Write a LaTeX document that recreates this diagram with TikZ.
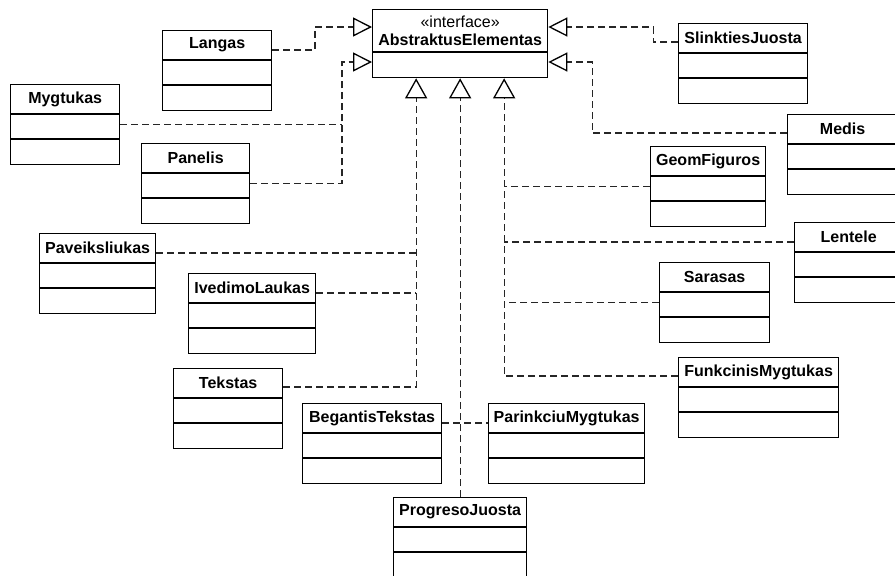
\documentclass[tikz,border=0pt]{standalone}
\usepackage{fontspec}
\setmainfont{Liberation Sans}
\usetikzlibrary{arrows.meta}

\tikzset{
  classbox/.style={draw, line width=1.3pt, rectangle, inner sep=0pt, anchor=north west, minimum height=80pt},
  divider/.style={line width=1.3pt},
  classtitle/.style={font=\bfseries\fontsize{16}{18}\selectfont, inner sep=0pt},
  dep/.style={dashed, dash pattern=on 7pt off 4pt, line width=1.2pt, black!85},
  realizes/.style={dep, -{Triangle[open, length=19pt, width=19pt, line width=1.3pt, black]}},
  realizesup/.style={dep, -{Triangle[open, length=20pt, width=22pt, line width=1.3pt, black]}},
}

% a UML class: name, left, top, right, title
\newcommand\umlclass[5]{%
  \node[classbox, minimum width={#4-#2}] (#1) at (#2,#3) {};
  \draw[divider] ([yshift=-30pt]#1.north west) -- ([yshift=-30pt]#1.north east);
  \draw[divider] ([yshift=-55pt]#1.north west) -- ([yshift=-55pt]#1.north east);
  \node[classtitle] (#1-title) at ([yshift=-15pt]#1.north) {#5};
}

\begin{document}
\begin{tikzpicture}[x=1pt, y=-1pt]
\useasboundingbox (0,0) rectangle (895,576);
\clip (0,0) rectangle (895,576);

% the interface
\node[draw, line width=1.3pt, rectangle, inner sep=0pt, anchor=north west,
      minimum width=175pt, minimum height=68pt] (abs) at (372,9) {};
\draw[divider] ([yshift=-43pt]abs.north west) -- ([yshift=-43pt]abs.north east);
\node[inner sep=0pt, font=\fontsize{16}{18}\selectfont] (abs-st) at ([yshift=-13pt]abs.north) {«interface»};
\node[classtitle] (abs-title) at ([yshift=-31pt]abs.north) {AbstraktusElementas};

% arrow targets on the interface
\coordinate (aL1) at ([yshift=-18pt]abs.north west);
\coordinate (aL2) at ([yshift=-53pt]abs.north west);
\coordinate (aR1) at ([yshift=-18pt]abs.north east);
\coordinate (aR2) at ([yshift=-53pt]abs.north east);
\coordinate (aB1) at ([xshift=-44pt]abs.south);
\coordinate (aB2) at (abs.south);
\coordinate (aB3) at ([xshift=44pt]abs.south);

% implementing classes
\umlclass{langas}{162}{30}{271}{Langas}
\umlclass{myg}{10}{84}{119}{Mygtukas}
\umlclass{pan}{141}{143}{249}{Panelis}
\umlclass{pav}{39}{233}{155}{Paveiksliukas}
\umlclass{ived}{188}{273}{315}{IvedimoLaukas}
\umlclass{tek}{173}{368}{282}{Tekstas}
\umlclass{beg}{302}{403}{441}{BegantisTekstas}
\umlclass{par}{488}{403}{644}{ParinkciuMygtukas}
\umlclass{prog}{393}{497}{526}{ProgresoJuosta}
\umlclass{sli}{678}{23}{807}{SlinktiesJuosta}
\umlclass{med}{787}{114}{897}{Medis}
\umlclass{geo}{650}{146}{765}{GeomFiguros}
\umlclass{len}{794}{222}{902}{Lentele}
\umlclass{sar}{659}{262}{769}{Sarasas}
\umlclass{fun}{678}{357}{838}{FunkcinisMygtukas}

% connector start points on the class boxes
\coordinate (sPav) at ([yshift=-20pt]pav.north east);
\coordinate (sIved) at ([yshift=-20pt]ived.north east);
\coordinate (sLen) at ([yshift=-20pt]len.north west);

% junctions where connectors merge into a shared vertical run
\coordinate (jMyg) at ([xshift=-30pt]aL2 |- myg.east);
\coordinate (jPav) at (aB1 |- sPav);
\coordinate (jIved) at (aB1 |- sIved);
\coordinate (jGeo) at (aB3 |- geo.west);
\coordinate (jLen) at (aB3 |- sLen);
\coordinate (jSar) at (aB3 |- sar.west);

% realization connectors, left side
\draw[realizes] ([yshift=-20pt]langas.north east) -| ([xshift=-57pt]aL1) -- (aL1);
\draw[realizes] (pan.east) -| ([xshift=-30pt]aL2) -- (aL2);
\draw[dep] (myg.east) -- (jMyg);

% realization connectors, right side
\draw[realizes] ([yshift=-19pt]sli.north west) -| ([xshift=105pt]aR1) -- (aR1);
\draw[realizes] ([yshift=-19pt]med.north west) -| ([xshift=44pt]aR2) -- (aR2);

% realization connectors from below
\draw[realizesup] ([yshift=-19pt]tek.north east) -| (aB1);
\draw[dep] (sPav) -- (jPav);
\draw[dep] (sIved) -- (jIved);

\draw[realizesup] (prog.north) -- (aB2);
\draw[dep] ([yshift=-20pt]beg.north east) -- ([yshift=-20pt]par.north west);

\draw[realizesup] ([yshift=-19pt]fun.north west) -| (aB3);
\draw[dep] (geo.west) -- (jGeo);
\draw[dep] (sLen) -- (jLen);
\draw[dep] (sar.west) -- (jSar);
\end{tikzpicture}
\end{document}
